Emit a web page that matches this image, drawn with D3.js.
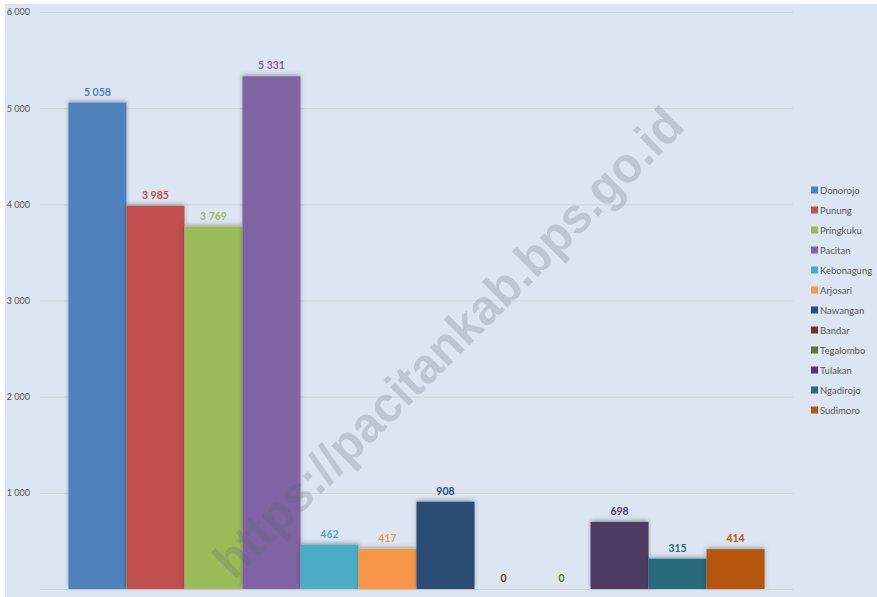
<!DOCTYPE html>
<html>
<head>
<meta charset="utf-8">
<script src="https://cdn.jsdelivr.net/npm/d3@7"></script>
<style>
  body { margin: 0; background: #fff; }
  #chart { width: 877px; height: 597px; }
</style>
</head>
<body>
<div id="chart"></div>
<script>
// data
const categories = ["Donorojo", "Punung", "Pringkuku", "Pacitan", "Kebonagung", "Arjosari",
  "Nawangan", "Bandar", "Tegalombo", "Tulakan", "Ngadirojo", "Sudimoro"];
const values = [5058, 3985, 3769, 5331, 462, 417, 908, 0, 0, 698, 315, 414];
const colors = ["#4f81bd", "#c0504d", "#9bbb59", "#8064a2", "#4bacc6", "#f79646",
  "#2c4d75", "#772c2a", "#5f7530", "#4d3b62", "#276a7c", "#b65708"];
const yTicks = [0, 1000, 2000, 3000, 4000, 5000, 6000];

const width = 877;
const height = 597;
const plotLeft = 40;
const plotRight = 793;
const plotTop = 12;
const plotBottom = 589;

const fmt = (v) => d3.format(",")(v).replace(/,/g, " ");

const svg = d3.select("#chart")
  .append("svg")
  .attr("width", width)
  .attr("height", height);

const defs = svg.append("defs");
const shadow = defs.append("filter")
  .attr("id", "shadow")
  .attr("x", "-20%").attr("y", "-20%")
  .attr("width", "140%").attr("height", "140%");
shadow.append("feDropShadow")
  .attr("dx", 0).attr("dy", -1.5)
  .attr("stdDeviation", 2)
  .attr("flood-color", "#000")
  .attr("flood-opacity", 0.3);

// background
svg.append("rect")
  .attr("x", 5).attr("y", 4)
  .attr("width", width - 5).attr("height", height - 4)
  .attr("fill", "#dce6f2");

// scales
const xScale = d3.scaleBand()
  .domain(categories)
  .range([plotLeft, plotRight])
  .paddingInner(0)
  .paddingOuter(0.49);

const yScale = d3.scaleLinear()
  .domain([0, 6000])
  .range([plotBottom, plotTop]);

// gridlines + y labels (no label at zero)
const yAxis = d3.axisLeft(yScale)
  .tickValues(yTicks)
  .tickSize(-(plotRight - plotLeft))
  .tickPadding(10)
  .tickFormat((v) => (v === 0 ? "" : fmt(v)));

const gy = svg.append("g")
  .attr("transform", `translate(${plotLeft},0)`)
  .call(yAxis);
gy.select(".domain").remove();
gy.selectAll(".tick line").attr("stroke", "#cfd4d9").attr("stroke-width", 1);
gy.selectAll(".tick text")
  .attr("fill", "#595959")
  .style("font-family", "Lato, 'Open Sans', sans-serif")
  .style("font-size", "9px");

// bars
const rows = categories.map((c, i) => ({ name: c, value: values[i], color: colors[i] }));

svg.append("g")
  .selectAll("rect")
  .data(rows.filter((d) => d.value > 0))
  .join("rect")
  .attr("x", (d) => xScale(d.name))
  .attr("y", (d) => yScale(d.value))
  .attr("width", xScale.bandwidth())
  .attr("height", (d) => yScale(0) - yScale(d.value))
  .attr("fill", (d) => d.color)
  .attr("filter", "url(#shadow)");

// value labels
svg.append("g")
  .selectAll("text")
  .data(rows)
  .join("text")
  .attr("x", (d) => xScale(d.name) + xScale.bandwidth() / 2)
  .attr("y", (d) => yScale(d.value) - 7)
  .attr("text-anchor", "middle")
  .attr("fill", (d) => d.color)
  .style("font-family", "Lato, 'Open Sans', sans-serif")
  .style("font-size", "10.5px")
  .style("font-weight", "bold")
  .text((d) => fmt(d.value));

// legend
const legend = svg.append("g")
  .selectAll("g")
  .data(rows)
  .join("g")
  .attr("transform", (d, i) => `translate(811, ${190 + i * 20})`);

legend.append("rect")
  .attr("x", 0).attr("y", -3.5)
  .attr("width", 7).attr("height", 7)
  .attr("fill", (d) => d.color);

legend.append("text")
  .attr("x", 9)
  .attr("y", 3.5)
  .attr("fill", "#595959")
  .style("font-family", "Lato, 'Open Sans', sans-serif")
  .style("font-size", "9.5px")
  .text((d) => d.name);

// watermark
svg.append("text")
  .attr("transform", "translate(448,342) rotate(-45)")
  .attr("text-anchor", "middle")
  .attr("dy", "0.35em")
  .attr("fill", "#5a6470")
  .attr("fill-opacity", 0.24)
  .attr("textLength", 640)
  .attr("lengthAdjust", "spacingAndGlyphs")
  .style("font-family", "'Liberation Sans', Arial, sans-serif")
  .style("font-size", "50px")
  .style("font-weight", "bold")
  .text("https://pacitankab.bps.go.id");
</script>
</body>
</html>
